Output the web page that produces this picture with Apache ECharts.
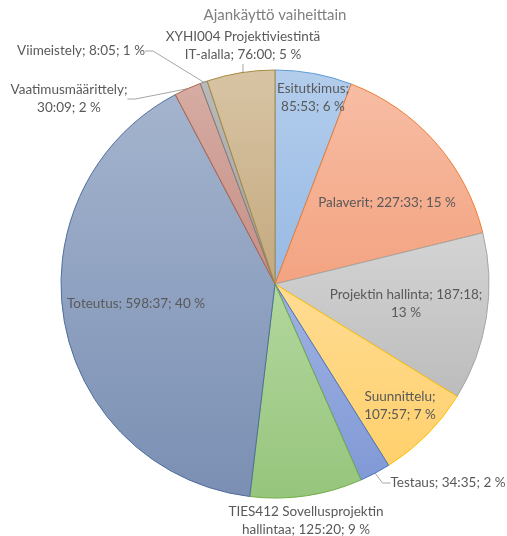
<!DOCTYPE html>
<html>
<head>
<meta charset="utf-8">
<script src="https://cdn.jsdelivr.net/npm/echarts@6/dist/echarts.min.js"></script>
<style>html,body{margin:0;padding:0;background:#fff}#c{width:507px;height:536px}</style>
</head>
<body>
<div id="c"></div>
<script>
// Data
var names = ['Esitutkimus', 'Palaverit', 'Projektin hallinta', 'Suunnittelu', 'Testaus',
  'TIES412 Sovellusprojektin hallintaa', 'Toteutus', 'Vaatimusmäärittely', 'Viimeistely',
  'XYHI004 Projektiviestintä IT-alalla'];
var times = ['85:53', '227:33', '187:18', '107:57', '34:35', '125:20', '598:37', '30:09', '8:05', '76:00'];
// where the label wraps: 0 = after the first two words of the name, 1 = after name, 2 = after time, -1 = no wrap
var wrapAt = [1, -1, 2, 1, -1, 0, -1, 1, -1, 0];
var title = 'Ajankäyttö vaiheittain';

// styling
var topColors = ['#b3cdec', '#f7bda4', '#d4d4d4', '#ffdc93', '#9fb2e2', '#b3d79e', '#a4b4ce', '#d6aca3', '#bababa', '#d8c4a4'];
var botColors = ['#97b9e4', '#f3a381', '#bcbcbc', '#ffd06c', '#8199d6', '#96c57c', '#7a8fb3', '#c58f86', '#a0a0a0', '#c4a97f'];
var borders = ['#5b9bd5', '#ed7d31', '#a5a5a5', '#ffc000', '#4472c4', '#70ad47', '#4f6e9e', '#b0624a', '#7f7f7f', '#a8893d'];
var outsideLine = [false, false, false, false, true, false, false, true, true, true];
// label anchor positions (centres of label text blocks)
var labelPos = [[313, 98], [387, 203], [406, 304], [400, 406], [448, 483], [306, 521], [136, 304], [69, 99], [81, 51], [243, 46]];

function toHours(t) { var p = t.split(':'); return +p[0] + (+p[1]) / 60; }

var data = names.map(function (n, i) {
  return {
    name: n,
    value: toHours(times[i]),
    itemStyle: {
      color: new echarts.graphic.LinearGradient(0, 0, 0, 1, [
        { offset: 0, color: topColors[i] }, { offset: 1, color: botColors[i] }
      ]),
      borderColor: borders[i],
      borderWidth: 1
    },
    labelLine: { show: outsideLine[i] }
  };
});

var chart = echarts.init(document.getElementById('c'), null, { renderer: 'canvas' });
chart.setOption({
  animation: false,
  title: {
    text: title, left: 270, top: 3, textAlign: 'center',
    textStyle: { fontFamily: 'Lato', fontSize: 15, fontWeight: 'normal', color: '#7f7f7f' }
  },
  series: [{
    type: 'pie',
    center: [275, 284],
    radius: 214,
    startAngle: 90,
    clockwise: true,
    avoidLabelOverlap: false,
    percentPrecision: 0,
    data: data,
    label: {
      show: true,
      position: 'outside',
      fontFamily: 'Lato',
      fontSize: 13.5,
      lineHeight: 18,
      color: '#595959',
      align: 'center',
      formatter: function (p) {
        var i = p.dataIndex;
        var t = times[i], pct = p.percent + ' %';
        var words = p.name.split(' ');
        if (wrapAt[i] === 0) {
          return words.slice(0, 2).join(' ') + '\n' + words.slice(2).join(' ') + '; ' + t + '; ' + pct;
        }
        if (wrapAt[i] === 1) return p.name + ';\n' + t + '; ' + pct;
        if (wrapAt[i] === 2) return p.name + '; ' + t + ';\n' + pct;
        return p.name + '; ' + t + '; ' + pct;
      }
    },
    labelLine: {
      show: true,
      length: 8,
      length2: 8,
      lineStyle: { color: '#a6a6a6', width: 1 }
    },
    labelLayout: function (params) {
      var pos = labelPos[params.dataIndex];
      return { x: pos[0], y: pos[1], align: 'center', verticalAlign: 'middle' };
    }
  }]
});
</script>
</body>
</html>
